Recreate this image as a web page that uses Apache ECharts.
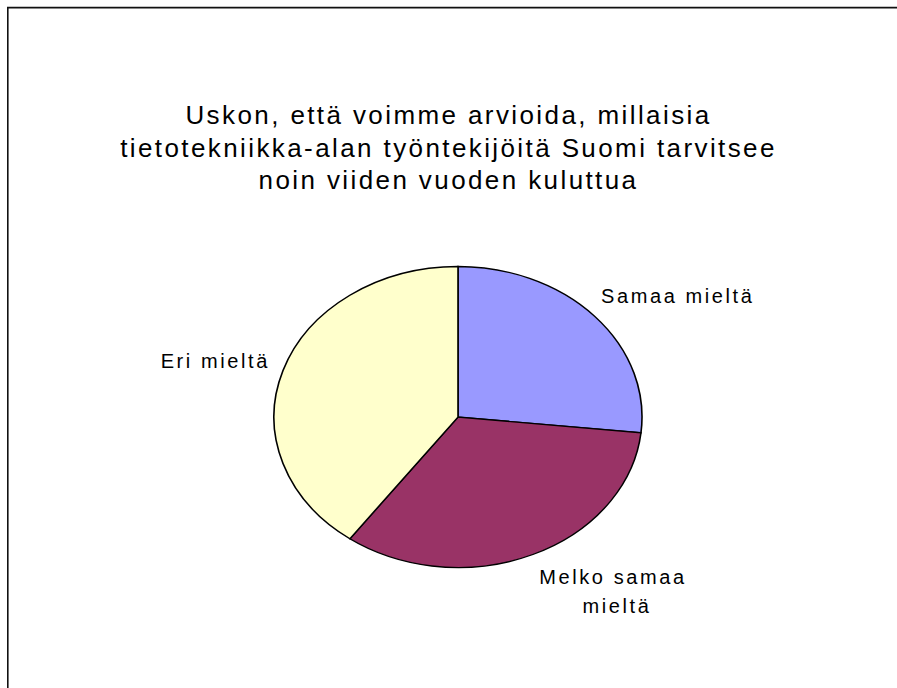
<!DOCTYPE html>
<html>
<head>
<meta charset="utf-8">
<title>Uskon, että voimme arvioida</title>
<script src="https://cdn.jsdelivr.net/npm/echarts@6/dist/echarts.min.js"></script>
<style>
  html, body { margin: 0; padding: 0; background: #fff; }
  #chart { width: 897px; height: 688px; }
  #chart text { letter-spacing: 2.6px; }
  #chart text[style*="26px"] { letter-spacing: 2.4px; }
</style>
</head>
<body>
<div id="chart"></div>
<script>
// Survey answers: share of respondents per answer
const categories = ['Samaa mieltä', 'Melko samaa mieltä', 'Eri mieltä'];
const values = [4, 5, 6];
const titleLines = [
  'Uskon, että voimme arvioida, millaisia',
  'tietotekniikka-alan työntekijöitä Suomi tarvitsee',
  'noin viiden vuoden kuluttua'
];

// Styling and layout
const colors = ['#9999FF', '#993366', '#FFFFCC'];
const pieCenter = [458, 417];
const radiusX = 184;
const radiusY = 150.5;
// top edge of each label block
const labelAnchor = [
  { x: 601, y: 281, align: 'left' },
  { x: 617, y: 562, align: 'center' },
  { x: 270, y: 346, align: 'right' }
];

const total = values.reduce((a, b) => a + b, 0);
const startShare = values.map((v, i) => values.slice(0, i).reduce((a, b) => a + b, 0));

const chart = echarts.init(document.getElementById('chart'), null, { renderer: 'svg' });

chart.setOption({
  animation: false,
  backgroundColor: '#ffffff',
  title: {
    text: titleLines.join('\n'),
    left: 'center',
    top: 99,
    padding: 0,
    textStyle: {
      fontFamily: 'Liberation Sans',
      fontSize: 26,
      fontWeight: 'normal',
      color: '#000',
      lineHeight: 32.5
    }
  },
  graphic: [{
    type: 'rect',
    silent: true,
    shape: { x: 7.8, y: 7.6, width: 1200, height: 1200 },
    style: { fill: 'none', stroke: '#111', lineWidth: 1.6 }
  }],
  series: [{
    type: 'custom',
    coordinateSystem: 'none',
    data: values.map((v, i) => ({ name: categories[i], value: [i, v] })),
    renderItem: function (params, api) {
      const i = params.dataIndex;
      const v = api.value(1);
      const start = -Math.PI / 2 + 2 * Math.PI * startShare[i] / total;
      const end = start + 2 * Math.PI * v / total;
      const lab = labelAnchor[i];
      return {
        type: 'group',
        children: [{
          type: 'sector',
          shape: {
            cx: pieCenter[0], cy: pieCenter[1],
            r0: 0, r: radiusX,
            startAngle: start, endAngle: end, clockwise: true
          },
          originX: pieCenter[0],
          originY: pieCenter[1],
          scaleY: radiusY / radiusX,
          style: {
            fill: colors[i],
            stroke: '#000',
            lineWidth: 1.6,
            strokeNoScale: true
          }
        }, {
          type: 'text',
          x: lab.x,
          y: lab.y,
          style: {
            text: categories[i],
            width: 140,
            overflow: 'break',
            fontFamily: 'Liberation Sans',
            fontSize: 20,
            lineHeight: 29,
            fill: '#000',
            align: lab.align,
            verticalAlign: 'top'
          }
        }]
      };
    }
  }]
});
</script>
</body>
</html>
